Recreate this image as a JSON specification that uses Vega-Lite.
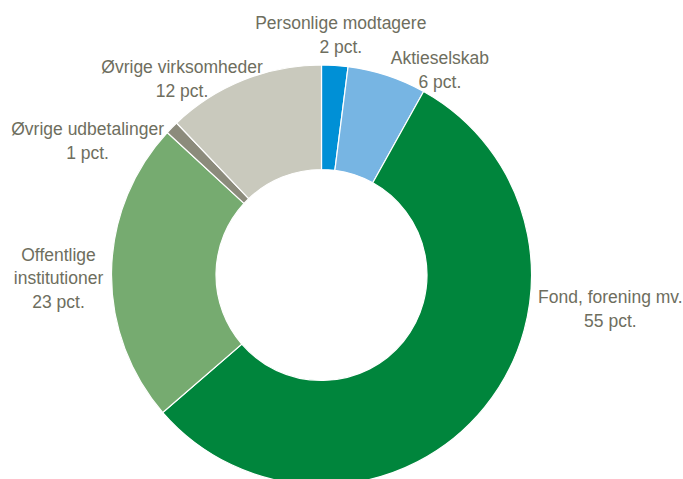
{
  "$schema": "https://vega.github.io/schema/vega-lite/v6.json",
  "autosize": {"type": "none"},
  "padding": {"left": 0, "top": 71, "right": 40, "bottom": 0},
  "width": 643,
  "height": 408,
  "background": "white",
  "config": {"view": {"stroke": null}},
  "data": {
    "values": [
      {"nr": 1, "kategori": "Personlige modtagere", "pct": 2, "label": "Personlige modtagere\n2 pct."},
      {"nr": 2, "kategori": "Aktieselskab", "pct": 6, "label": "Aktieselskab\n6 pct."},
      {"nr": 3, "kategori": "Fond, forening mv.", "pct": 55, "label": "Fond, forening mv.\n55 pct."},
      {"nr": 4, "kategori": "Offentlige institutioner", "pct": 23, "label": "Offentlige\ninstitutioner\n23 pct."},
      {"nr": 5, "kategori": "Øvrige udbetalinger", "pct": 1, "label": "Øvrige udbetalinger\n1 pct."},
      {"nr": 6, "kategori": "Øvrige virksomheder", "pct": 12, "label": "Øvrige virksomheder\n12 pct."}
    ]
  },
  "encoding": {
    "theta": {"field": "pct", "type": "quantitative", "stack": true},
    "order": {"field": "nr", "type": "quantitative"}
  },
  "layer": [
    {
      "mark": {"type": "arc", "outerRadius": 210, "innerRadius": 105.5, "stroke": "white", "strokeWidth": 1.2},
      "encoding": {
        "color": {
          "field": "kategori", "type": "nominal", "legend": null,
          "scale": {
            "domain": ["Personlige modtagere", "Aktieselskab", "Fond, forening mv.", "Offentlige institutioner", "Øvrige udbetalinger", "Øvrige virksomheder"],
            "range": ["#0090D6", "#77B5E3", "#00853C", "#76AB70", "#8C8B7C", "#C9C9BD"]
          }
        }
      }
    },
    {
      "mark": {"type": "text", "radius": 241, "dx": 4, "dy": -10, "lineBreak": "\n", "font": "Liberation Sans", "fontSize": 17.5, "lineHeight": 24, "color": "#6E6E5E", "align": "center", "baseline": "middle"},
      "encoding": {"text": {"condition": {"test": "datum.nr === 1", "field": "label"}, "value": ""}}
    },
    {
      "mark": {"type": "text", "radius": 216, "dx": 51, "dy": -11, "lineBreak": "\n", "font": "Liberation Sans", "fontSize": 17.5, "lineHeight": 24, "color": "#6E6E5E", "align": "center", "baseline": "middle"},
      "encoding": {"text": {"condition": {"test": "datum.nr === 2", "field": "label"}, "value": ""}}
    },
    {
      "mark": {"type": "text", "radius": 215, "dx": 122, "dy": -113, "lineBreak": "\n", "font": "Liberation Sans", "fontSize": 17.5, "lineHeight": 24, "color": "#6E6E5E", "align": "center", "baseline": "middle"},
      "encoding": {"text": {"condition": {"test": "datum.nr === 3", "field": "label"}, "value": ""}}
    },
    {
      "mark": {"type": "text", "radius": 263, "dy": -15, "lineBreak": "\n", "font": "Liberation Sans", "fontSize": 17.5, "lineHeight": 23.5, "color": "#6E6E5E", "align": "center", "baseline": "middle"},
      "encoding": {"text": {"condition": {"test": "datum.nr === 4", "field": "label"}, "value": ""}}
    },
    {
      "mark": {"type": "text", "radius": 230, "dx": -70, "dy": 16, "lineBreak": "\n", "font": "Liberation Sans", "fontSize": 17.5, "lineHeight": 24, "color": "#6E6E5E", "align": "center", "baseline": "middle"},
      "encoding": {"text": {"condition": {"test": "datum.nr === 5", "field": "label"}, "value": ""}}
    },
    {
      "mark": {"type": "text", "radius": 230, "dx": -54, "dy": 6.5, "lineBreak": "\n", "font": "Liberation Sans", "fontSize": 17.5, "lineHeight": 24, "color": "#6E6E5E", "align": "center", "baseline": "middle"},
      "encoding": {"text": {"condition": {"test": "datum.nr === 6", "field": "label"}, "value": ""}}
    }
  ]
}
